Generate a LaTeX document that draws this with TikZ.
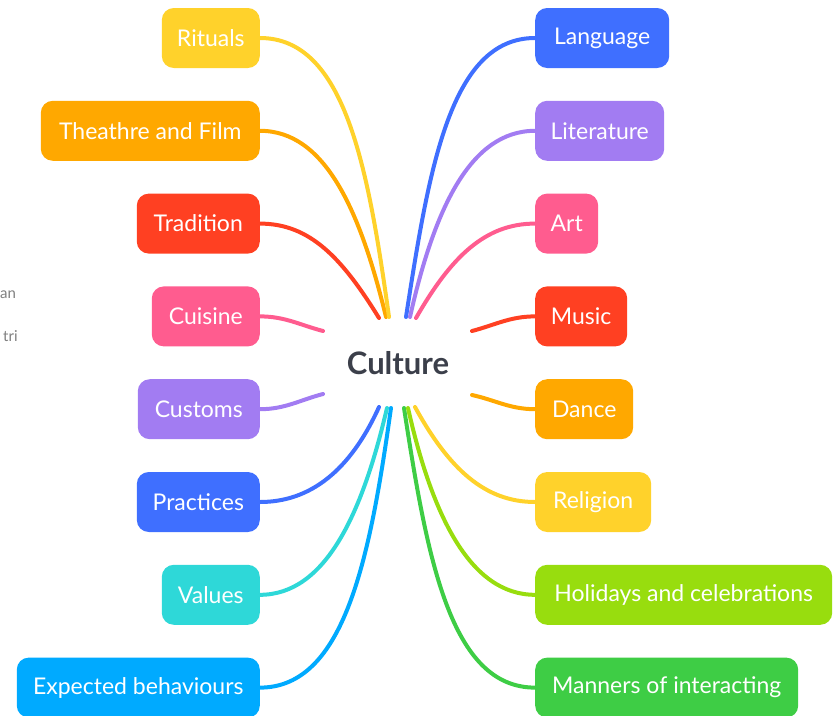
\documentclass[tikz,border=0pt]{standalone}
\usepackage{fontspec}
\setmainfont{Lato}
\usetikzlibrary{positioning}

\definecolor{cYellow}{HTML}{FFD22B}
\definecolor{cOrange}{HTML}{FFA800}
\definecolor{cRed}{HTML}{FF4022}
\definecolor{cPink}{HTML}{FF5C8F}
\definecolor{cPurple}{HTML}{A27CF2}
\definecolor{cBlue}{HTML}{3F6FFF}
\definecolor{cCyan}{HTML}{2ED8D8}
\definecolor{cSky}{HTML}{00AAFF}
\definecolor{cLime}{HTML}{98DD0E}
\definecolor{cGreen}{HTML}{3ECD45}
\definecolor{cText}{HTML}{3B3F4A}

\tikzset{
  topic/.style={fill=#1, rounded corners=12pt, text=white, minimum height=60pt,
    inner xsep=14pt, font=\fontsize{23}{27}\selectfont},
  branch/.style={draw=#1, line width=4pt, line cap=round},
  fragment/.style={text=gray, font=\fontsize{15}{17}\selectfont, inner sep=0pt}
}

\begin{document}
\begin{tikzpicture}[x=1pt,y=-1pt]
                    \useasboundingbox (0,0) rectangle (835,715);
                    \node [font=\bfseries\fontsize{31}{35}\selectfont, text=cText] (culture) at (398,363) {Culture};
                    % left column
                    \node [topic=cYellow, anchor=east, minimum width=98pt] (rituals) at (260,38) {Rituals};
                    \node [topic=cOrange, below=32.4pt of rituals.south east, anchor=north east, minimum width=219pt] (theatre) {Theathre and Film};
                    \node [topic=cRed, below=32.4pt of theatre.south east, anchor=north east, minimum width=123pt] (tradition) {Tradition};
                    \node [topic=cPink, below=32.4pt of tradition.south east, anchor=north east, minimum width=108pt] (cuisine) {Cuisine};
                    \node [topic=cPurple, below=32.4pt of cuisine.south east, anchor=north east, minimum width=122pt] (customs) {Customs};
                    \node [topic=cBlue, below=32.4pt of customs.south east, anchor=north east, minimum width=123pt] (practices) {Practices};
                    \node [topic=cCyan, below=32.4pt of practices.south east, anchor=north east, minimum width=98pt] (values) {Values};
                    \node [topic=cSky, below=32.4pt of values.south east, anchor=north east, minimum width=243pt] (expected) {Expected behaviours};
                    % right column
                    \node [topic=cBlue, anchor=west, minimum width=134pt] (language) at (535,38) {Language};
                    \node [topic=cPurple, below=32.4pt of language.south west, anchor=north west, minimum width=129pt] (literature) {Literature};
                    \node [topic=cPink, below=32.4pt of literature.south west, anchor=north west, minimum width=63pt] (art) {Art};
                    \node [topic=cRed, below=32.4pt of art.south west, anchor=north west, minimum width=92pt] (music) {Music};
                    \node [topic=cOrange, below=32.4pt of music.south west, anchor=north west, minimum width=98pt] (dance) {Dance};
                    \node [topic=cYellow, below=32.4pt of dance.south west, anchor=north west, minimum width=116pt] (religion) {Religion};
                    \node [topic=cLime, below=32.4pt of religion.south west, anchor=north west, minimum width=297pt] (holidays) {Holidays and celebrations};
                    \node [topic=cGreen, below=32.4pt of holidays.south west, anchor=north west, minimum width=263pt] (manners) {Manners of interacting};
                    % cut-off text at the left edge
                    \node [fragment, anchor=west] (frag-an) at (0,295) {an};
                    \node [fragment, anchor=west] (frag-tri) at (3,336) {tri};
                    % free ends round the centre
                    \coordinate (rituals-end) at (389,317);
                    \coordinate (theatre-end) at (386,317);
                    \coordinate (tradition-end) at (379,318);
                    \coordinate (cuisine-end) at (323,331);
                    \coordinate (customs-end) at (323,394);
                    \coordinate (practices-end) at (379,407);
                    \coordinate (values-end) at (387,408);
                    \coordinate (expected-end) at (391,408);
                    \coordinate (language-end) at (406,317);
                    \coordinate (literature-end) at (410,317);
                    \coordinate (art-end) at (416,318);
                    \coordinate (music-end) at (472,331);
                    \coordinate (dance-end) at (472,395);
                    \coordinate (religion-end) at (415,407);
                    \coordinate (holidays-end) at (408,408);
                    \coordinate (manners-end) at (404,408);
                    % branches
                    \draw[branch=cRed] (tradition.east) .. controls +(50,0) and +(-37,-60) .. (tradition-end);
                    \draw[branch=cOrange] (theatre.east) .. controls +(65,0) and +(-26,-107) .. (theatre-end);
                    \draw[branch=cYellow] (rituals.east) .. controls +(85,0) and +(-21,-150) .. (rituals-end);
                    \draw[branch=cBlue] (language.west) .. controls +(-85,0) and +(23,-148) .. (language-end);
                    \draw[branch=cPurple] (literature.west) .. controls +(-65,0) and +(24,-107) .. (literature-end);
                    \draw[branch=cPink] (art.west) .. controls +(-50,0) and +(35,-61) .. (art-end);
                    \draw[branch=cPink] (cuisine.east) .. controls +(25,0) and +(-23,-6) .. (cuisine-end);
                    \draw[branch=cPurple] (customs.east) .. controls +(25,0) and +(-23,6) .. (customs-end);
                    \draw[branch=cRed] (music.west) .. controls +(-25,0) and +(23,-6) .. (music-end);
                    \draw[branch=cOrange] (dance.west) .. controls +(-25,0) and +(23,5) .. (dance-end);
                    \draw[branch=cSky] (expected.east) .. controls +(85,0) and +(-21,149) .. (expected-end);
                    \draw[branch=cCyan] (values.east) .. controls +(65,0) and +(-25,107) .. (values-end);
                    \draw[branch=cBlue] (practices.east) .. controls +(50,0) and +(-29,64) .. (practices-end);
                    \draw[branch=cGreen] (manners.west) .. controls +(-85,0) and +(23,149) .. (manners-end);
                    \draw[branch=cLime] (holidays.west) .. controls +(-65,0) and +(24,107) .. (holidays-end);
                    \draw[branch=cYellow] (religion.west) .. controls +(-50,0) and +(34,62) .. (religion-end);
\end{tikzpicture}
\end{document}
